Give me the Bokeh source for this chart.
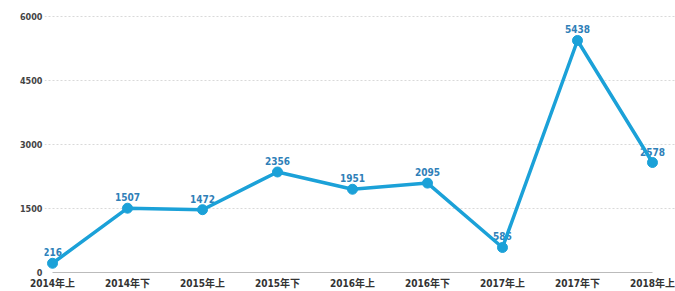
from bokeh.plotting import figure
from bokeh.models import ColumnDataSource, Range1d, FixedTicker, LabelSet
from bokeh.embed import file_html
from bokeh.resources import INLINE
from bokeh.core.properties import value

categories = ["2014年上", "2014年下", "2015年上", "2015年下", "2016年上",
              "2016年下", "2017年上", "2017年下", "2018年上"]
values = [216, 1507, 1472, 2356, 1951, 2095, 586, 5438, 2578]
y_ticks = [0, 1500, 3000, 4500, 6000]

xs = list(range(len(categories)))
src = ColumnDataSource(dict(x=xs, y=values, lab=[str(v) for v in values]))

FONT = "DejaVu Sans Condensed, Noto Sans CJK SC, sans-serif"

p = figure(width=675, height=291, output_backend="svg", toolbar_location=None,
           x_range=Range1d(-0.107, 8.307), y_range=Range1d(0, 6140.6),
           min_border_left=44, min_border_right=0, min_border_top=10,
           min_border_bottom=19)
p.outline_line_color = None
p.background_fill_color = "white"

p.xgrid.grid_line_color = None
p.ygrid.ticker = FixedTicker(ticks=y_ticks)
p.ygrid.bounds = (-0.107, 8.03)
p.ygrid.grid_line_color = "#d9d9d9"
p.ygrid.grid_line_dash = "2 2"
p.ygrid.grid_line_width = 1

p.yaxis.ticker = FixedTicker(ticks=y_ticks)
p.yaxis.axis_line_color = None
p.yaxis.major_tick_line_color = None
p.yaxis.minor_tick_line_color = None
p.yaxis.major_tick_out = 0
p.yaxis.major_tick_in = 0
p.yaxis.minor_tick_out = 0
p.yaxis.major_label_standoff = 2
p.yaxis.major_label_text_font = FONT
p.yaxis.major_label_text_font_style = "bold"
p.yaxis.major_label_text_font_size = "9px"
p.yaxis.major_label_text_color = "#444444"

p.xaxis.ticker = FixedTicker(ticks=xs)
p.xaxis.bounds = (0, 8)
p.xaxis.major_label_overrides = {i: c for i, c in enumerate(categories)}
p.xaxis.axis_line_color = "#bbbbbb"
p.xaxis.axis_line_width = 1
p.xaxis.major_tick_line_color = None
p.xaxis.minor_tick_line_color = None
p.xaxis.major_tick_out = 0
p.xaxis.major_tick_in = 0
p.xaxis.minor_tick_out = 0
p.xaxis.major_label_standoff = 5
p.xaxis.major_label_text_font = FONT
p.xaxis.major_label_text_font_style = "bold"
p.xaxis.major_label_text_font_size = "10px"
p.xaxis.major_label_text_color = "#333333"

labels = LabelSet(x="x", y="y", text="lab", source=src, text_align="center",
                  text_baseline="bottom", y_offset=7, text_font=value(FONT),
                  text_font_style="bold", text_font_size="10px",
                  text_color="#2f80b8", level="underlay")
p.add_layout(labels)

LINE = "#1ba1d8"
p.line(x="x", y="y", source=src, line_color=LINE, line_width=3.5)
p.scatter(x="x", y="y", source=src, size=10, fill_color=LINE, line_color=LINE)

open("out.html", "w").write(file_html(p, INLINE))
